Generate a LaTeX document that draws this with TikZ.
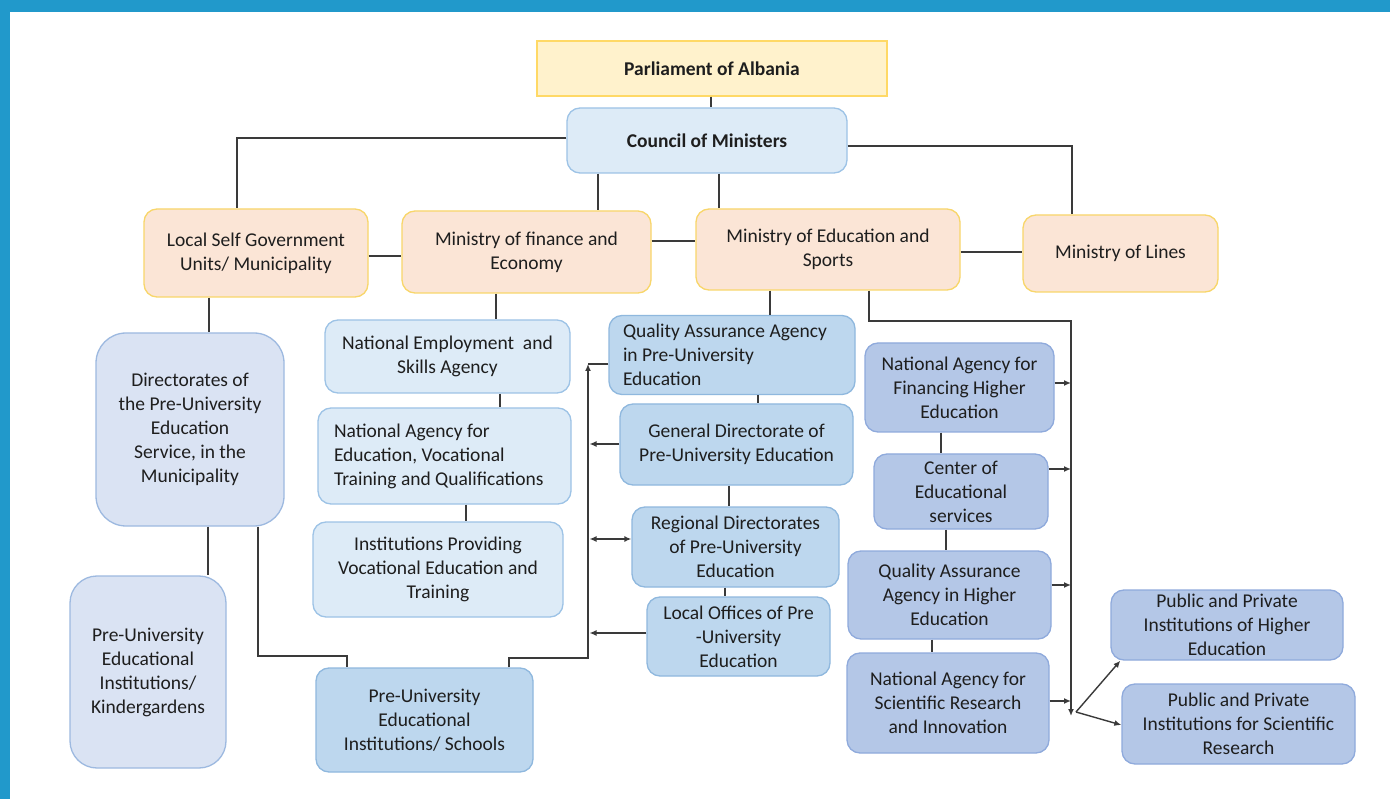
\documentclass[tikz,border=0pt]{standalone}
\usepackage{fontspec}
\setmainfont{Carlito}
\usetikzlibrary{arrows.meta}
\definecolor{frameblue}{HTML}{2199CB}
\definecolor{lnc}{HTML}{3A3A3A}
\definecolor{txt}{HTML}{1E1E1E}
\definecolor{yelfill}{HTML}{FFF2CC}
\definecolor{yelline}{HTML}{FFD966}
\definecolor{peachfill}{HTML}{FBE5D6}
\definecolor{peachline}{HTML}{F8D66A}
\definecolor{lbfill}{HTML}{DDEBF7}
\definecolor{lbline}{HTML}{9DC3E6}
\definecolor{lvfill}{HTML}{DAE3F3}
\definecolor{lvline}{HTML}{9DB9E0}
\definecolor{mbfill}{HTML}{BDD7EE}
\definecolor{mbline}{HTML}{8FB8DE}
\definecolor{pbfill}{HTML}{B4C7E7}
\definecolor{pbline}{HTML}{8FAADC}
\tikzset{
  x=1pt, y=-1pt,
  every node/.style={font=\fontsize{19.5}{24}\selectfont, text=txt, inner sep=0pt},
  bx/.style={draw, line width=1.3pt, rounded corners=13pt, align=center},
  parlbox/.style={bx, rounded corners=0pt, fill=yelfill, draw=yelline},
  minbox/.style={bx, fill=peachfill, draw=peachline},
  cbox/.style={bx, fill=lbfill, draw=lbline},
  lbbox/.style={bx, fill=lbfill, draw=lbline},
  lvbox/.style={bx, fill=lvfill, draw=lvline},
  mbbox/.style={bx, fill=mbfill, draw=mbline},
  pbbox/.style={bx, fill=pbfill, draw=pbline},
  ln/.style={draw=lnc, line width=1.4pt},
  arw/.style={ln, -{Latex[length=7pt,width=6pt]}},
  arwb/.style={ln, {Latex[length=7pt,width=6pt]}-{Latex[length=7pt,width=6pt]}},
}
\begin{document}
\begin{tikzpicture}
\useasboundingbox (0,0) rectangle (1390,799);
\fill[white] (0,0) rectangle (1390,799);
\fill[frameblue] (0,0) rectangle (1390,12);
\fill[frameblue] (0,0) rectangle (10,799);

% top level
\node[parlbox, minimum width=350pt, minimum height=55pt] (parl) at (712,68.5) {\bfseries Parliament of Albania};
\node[cbox, minimum width=280pt, minimum height=65pt] (council) at (707,140.5) {\bfseries Council of Ministers};

% ministries
\node[minbox, minimum width=224pt, minimum height=88pt] (lsg) at (256,253) {Local Self Government\\Units/ Municipality};
\node[minbox, minimum width=249pt, minimum height=82pt] (mfe) at (526.5,252) {Ministry of finance and\\Economy};
\node[minbox, minimum width=264pt, minimum height=81pt] (mes) at (828,249.5) {Ministry of Education and\\Sports};
\node[minbox, minimum width=195pt, minimum height=77pt] (mol) at (1120.5,253.5) {Ministry of Lines};

% left column
\node[lvbox, rounded corners=30pt, minimum width=188pt, minimum height=193pt] (dir) at (190,429.5) {Directorates of\\the Pre-University\\Education\\Service, in the\\Municipality};
\node[lvbox, rounded corners=27pt, minimum width=156pt, minimum height=192pt] (kin) at (148,672) {Pre-University\\Educational\\Institutions/\\Kindergardens};

% vocational column
\node[lbbox, minimum width=245pt, minimum height=73pt] (nesa) at (447.5,356.5) {National Employment\ \ and\\Skills Agency};
\node[lbbox, minimum width=253pt, minimum height=96pt, text width=221pt, align=flush left] (naev) at (444.5,456) {National Agency for\\Education, Vocational\\Training and Qualifications};
\node[lbbox, minimum width=250pt, minimum height=95pt] (ipve) at (438,569.5) {Institutions Providing\\Vocational Education and\\Training};
\node[mbbox, minimum width=217pt, minimum height=104pt] (sch) at (424.5,720) {Pre-University\\Educational\\Institutions/ Schools};

% pre-university column
\node[mbbox, minimum width=246pt, minimum height=79pt, text width=218pt, align=flush left] (qaap) at (732,355) {Quality Assurance Agency\\in Pre-University\\Education};
\node[mbbox, minimum width=233pt, minimum height=81pt] (gdp) at (736.5,444.5) {General Directorate of\\Pre-University Education};
\node[mbbox, minimum width=207pt, minimum height=80pt] (rdp) at (735.5,547) {Regional Directorates\\of Pre-University\\Education};
\node[mbbox, minimum width=183pt, minimum height=79pt] (lop) at (738.5,636.5) {Local Offices of Pre\\-University\\Education};

% higher education column
\node[pbbox, minimum width=189pt, minimum height=89pt] (nafhe) at (959.5,387.5) {National Agency for\\Financing Higher\\Education};
\node[pbbox, minimum width=174pt, minimum height=75pt] (ces) at (961,491.5) {Center of\\Educational\\services};
\node[pbbox, minimum width=203pt, minimum height=88pt] (qahe) at (949.5,595) {Quality Assurance\\Agency in Higher\\Education};
\node[pbbox, minimum width=202pt, minimum height=100pt] (nasri) at (948,703) {National Agency for\\Scientific Research\\and Innovation};
\node[pbbox, minimum width=232pt, minimum height=70pt] (pphe) at (1227,625) {Public and Private\\Institutions of Higher\\Education};
\node[pbbox, minimum width=233pt, minimum height=80pt] (ppsr) at (1238.5,724) {Public and Private\\Institutions for Scientific\\Research};

% connectors top
\draw[ln] (parl.south -| 711,0) -- (council.north -| 711,0);
\draw[ln] (council.west |- 0,138) -| (lsg.north -| 237,0);
\draw[ln] (council.south -| 598,0) -- (mfe.north -| 598,0);
\draw[ln] (council.south -| 719,0) -- (mes.north -| 719,0);
\draw[ln] (council.east |- 0,146) -| (mol.north -| 1072,0);
\draw[ln] (lsg.east |- 0,256) -- (mfe.west |- 0,256);
\draw[ln] (mfe.east |- 0,241) -- (mes.west |- 0,241);
\draw[ln] (mes.east |- 0,252) -- (mol.west |- 0,252);

% left
\draw[ln] (lsg.south -| 209,0) -- (dir.north -| 209,0);
\draw[ln] (dir.south -| 208,0) -- (kin.north -| 208,0);
\draw[ln] (dir.south -| 258,0) -- (258,656) -- (347,656) -- (sch.north -| 347,0);

% vocational
\draw[ln] (mfe.south -| 496,0) -- (nesa.north -| 496,0);
\draw[ln] (nesa.south -| 500,0) -- (naev.north -| 500,0);
\draw[ln] (naev.south -| 466,0) -- (ipve.north -| 466,0);

% pre-university
\coordinate (lvt) at (588,364);
\draw[arw] (sch.north -| 509,0) -- (509,658) -- (588,658) -- (lvt);
\draw[ln] (qaap.west |- lvt) -- (lvt);
\draw[arw] (gdp.west |- 0,444) -- (589.5,444);
\draw[arwb] (589.5,539) -- (rdp.west |- 0,539);
\draw[arw] (lop.west |- 0,633) -- (589.5,633);
\draw[ln] (mes.south -| 770,0) -- (qaap.north -| 770,0);
\draw[ln] (qaap.south -| 758,0) -- (gdp.north -| 758,0);
\draw[ln] (gdp.south -| 729,0) -- (rdp.north -| 729,0);
\draw[ln] (rdp.south -| 725,0) -- (lop.north -| 725,0);

% higher education
\coordinate (rv) at (1071,716);
\draw[arw] (mes.south -| 869,0) |- (1071,321) -- (rv);
\draw[arw] (nafhe.east |- 0,383) -- (1071,383);
\draw[arw] (ces.east |- 0,469) -- (1071,469);
\draw[arw] (qahe.east |- 0,585) -- (1071,585);
\draw[arw] (nasri.east |- 0,701) -- (1071,701);
\draw[ln] (nafhe.south -| 941,0) -- (ces.north -| 941,0);
\draw[ln] (ces.south -| 946,0) -- (qahe.north -| 946,0);
\draw[ln] (qahe.south -| 932,0) -- (nasri.north -| 932,0);
\coordinate (fork) at (1076,712);
\draw[arw] (fork) -- ([xshift=10pt]pphe.south west);
\draw[arw] (fork) -- (ppsr.west |- 0,725);
\end{tikzpicture}
\end{document}
